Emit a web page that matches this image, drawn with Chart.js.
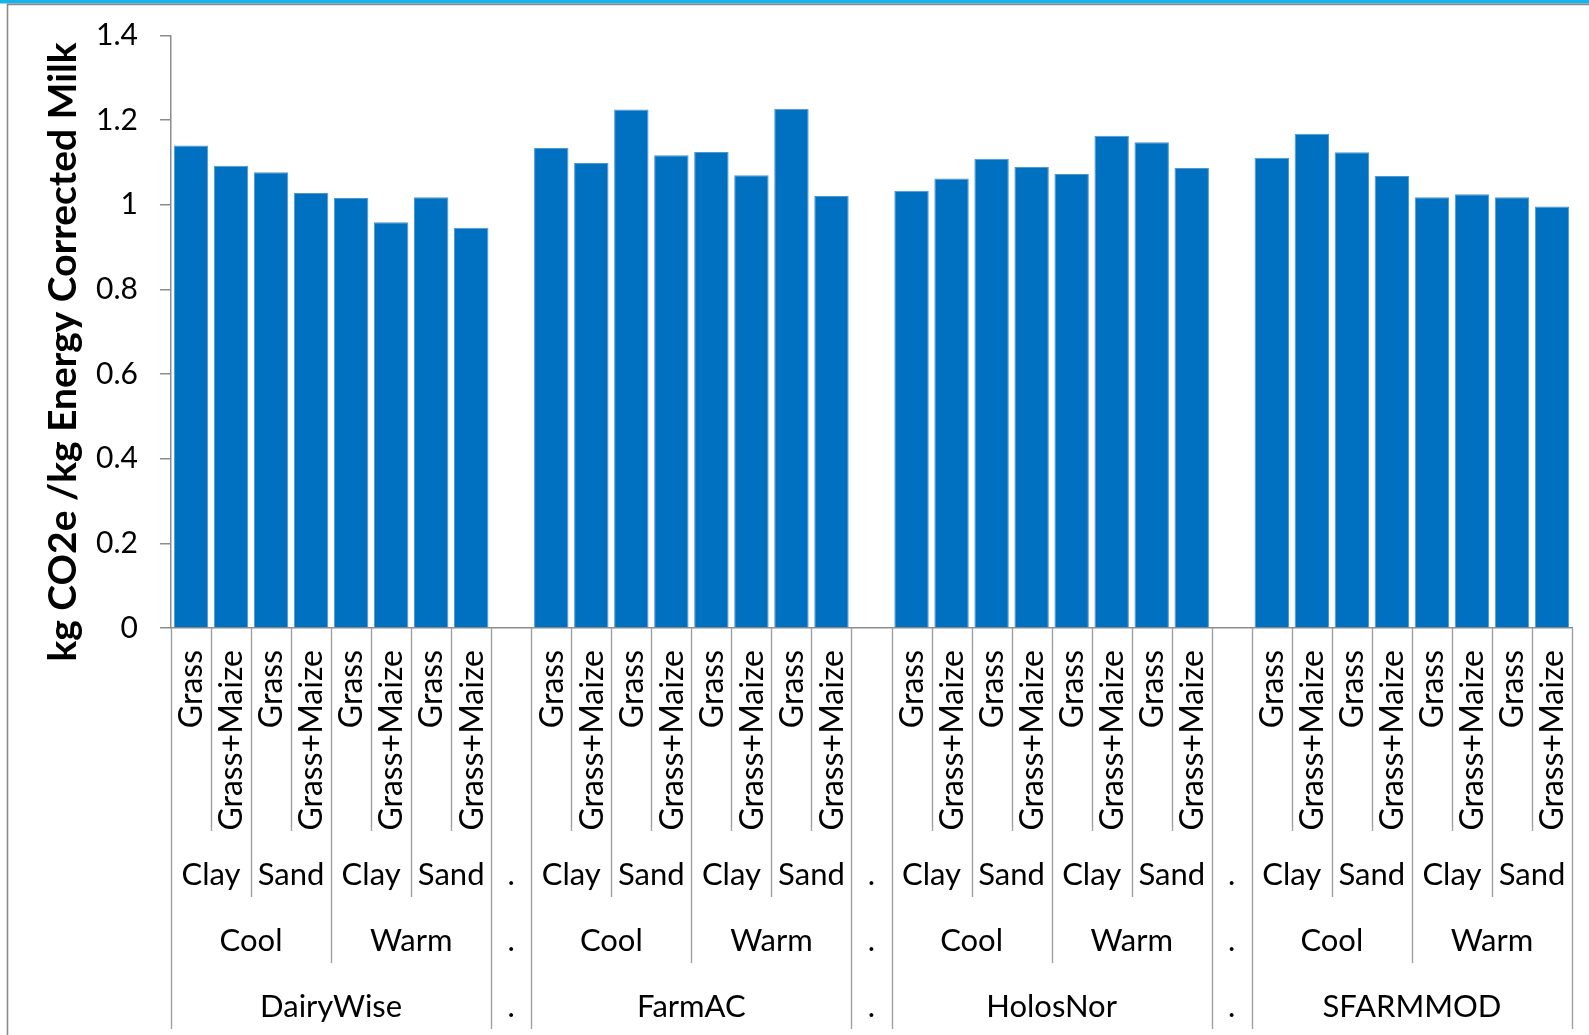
<!DOCTYPE html>
<html>
<head>
<meta charset="utf-8">
<title>kg CO2e per kg Energy Corrected Milk</title>
<script src="https://cdn.jsdelivr.net/npm/chart.js@4.4.1/dist/chart.umd.min.js"></script>
<style>
  html, body { margin: 0; padding: 0; background: #fff; overflow: hidden; }
  #wrap { position: relative; width: 1589px; height: 1035px; }
  canvas { display: block; }
</style>
</head>
<body>
<div id="wrap"><canvas id="c" width="1589" height="1035"></canvas></div>
<script>
// Category hierarchy (outermost last)
const models   = ['DairyWise', 'FarmAC', 'HolosNor', 'SFARMMOD'];
const climates = ['Cool', 'Warm'];
const soils    = ['Clay', 'Sand'];
const feeds    = ['Grass', 'Grass+Maize'];

// kg CO2e / kg ECM per model, ordered Cool-Clay, Cool-Sand, Warm-Clay, Warm-Sand (Grass, Grass+Maize)
const dairyWise = [1.140, 1.092, 1.077, 1.028, 1.016, 0.959, 1.018, 0.946];
const farmAC    = [1.134, 1.099, 1.225, 1.117, 1.125, 1.070, 1.227, 1.021];
const holosNor  = [1.033, 1.062, 1.109, 1.089, 1.073, 1.163, 1.148, 1.087];
const sfarmmod  = [1.111, 1.168, 1.124, 1.068, 1.018, 1.025, 1.018, 0.996];

const yMin = 0, yMax = 1.4, yStep = 0.2;
const yTitle = 'kg CO2e /kg Energy Corrected Milk';
const separatorLabel = '.';

// Build the flat category list, with an empty separator slot between models
const seriesByModel = [dairyWise, farmAC, holosNor, sfarmmod];
const cats = [];
const values = [];
models.forEach((model, mi) => {
  if (mi > 0) { cats.push({ sep: true }); values.push(null); }
  let k = 0;
  climates.forEach(climate => {
    soils.forEach(soil => {
      feeds.forEach(feed => {
        cats.push({ model, climate, soil, feed });
        values.push(seriesByModel[mi][k++]);
      });
    });
  });
});
const labels = cats.map(c => c.sep ? '' : c.feed);

const FONT = 'Lato, "Open Sans", sans-serif';
const AXIS_GREY = '#8c8c8c';
const DIV_GREY = '#a0a0a0';

// Page frame: cyan band along the top, grey border top and left
const framePlugin = {
  id: 'frame',
  beforeDraw(chart) {
    const ctx = chart.ctx;
    ctx.save();
    ctx.fillStyle = '#fff';
    ctx.fillRect(0, 0, chart.width, chart.height);
    ctx.fillStyle = '#17b4ec';
    ctx.fillRect(0, 0, chart.width, 3.5);
    ctx.strokeStyle = '#8a8a8a';
    ctx.lineWidth = 1.6;
    ctx.beginPath();
    ctx.moveTo(7.5, chart.height);
    ctx.lineTo(7.5, 4.4);
    ctx.lineTo(chart.width, 4.4);
    ctx.stroke();
    ctx.restore();
  }
};

// Multi-level category axis and rotated y-axis title
const rowBottoms = [831, 897, 963, 1029];   // feed, soil, climate, model rows
const rowText    = [650, 875, 941, 1007];

const multiAxisPlugin = {
  id: 'multiAxis',
  afterDraw(chart) {
    const ctx = chart.ctx;
    const xs = chart.scales.x;
    const area = chart.chartArea;
    const step = xs.getPixelForValue(1) - xs.getPixelForValue(0);
    const leftEdge = i => xs.getPixelForValue(i) - step / 2;
    const y0 = area.bottom;

    ctx.save();
    // divider lines between categories
    ctx.strokeStyle = DIV_GREY;
    ctx.lineWidth = 1.4;
    for (let b = 0; b <= cats.length; b++) {
      const a = cats[b - 1], c = cats[b];
      let depth;
      if (!a || !c || a.sep || c.sep) depth = 3;
      else if (a.climate !== c.climate) depth = 2;
      else if (a.soil !== c.soil) depth = 1;
      else depth = 0;
      const x = Math.round(leftEdge(b)) + 0.5;
      ctx.beginPath();
      ctx.moveTo(x, y0);
      ctx.lineTo(x, rowBottoms[depth]);
      ctx.stroke();
    }

    ctx.fillStyle = '#000';

    // level 1: rotated feed labels
    ctx.font = '32px ' + FONT;
    cats.forEach((c, i) => {
      if (c.sep) return;
      ctx.save();
      ctx.translate(xs.getPixelForValue(i) + 1, rowText[0]);
      ctx.rotate(-Math.PI / 2);
      ctx.textAlign = 'right';
      ctx.textBaseline = 'middle';
      ctx.fillText(c.feed, 0, 0);
      ctx.restore();
    });

    // levels 2-4: grouped spans
    ctx.font = '31px ' + FONT;
    ctx.textAlign = 'center';
    ctx.textBaseline = 'middle';
    const keyFns = [
      c => c.model + '|' + c.climate + '|' + c.soil,
      c => c.model + '|' + c.climate,
      c => c.model
    ];
    const textFns = [c => c.soil, c => c.climate, c => c.model];
    keyFns.forEach((keyFn, li) => {
      const y = rowText[li + 1];
      let i = 0;
      while (i < cats.length) {
        const c = cats[i];
        if (c.sep) {
          ctx.fillText(separatorLabel, xs.getPixelForValue(i), y);
          i++;
          continue;
        }
        let j = i;
        while (j + 1 < cats.length && !cats[j + 1].sep && keyFn(cats[j + 1]) === keyFn(c)) j++;
        const cx = (leftEdge(i) + leftEdge(j + 1)) / 2;
        ctx.fillText(textFns[li](c), cx, y);
        i = j + 1;
      }
    });

    // y-axis title
    ctx.save();
    ctx.translate(63, 352);
    ctx.rotate(-Math.PI / 2);
    ctx.font = 'bold 39px ' + FONT;
    ctx.textAlign = 'center';
    ctx.textBaseline = 'middle';
    ctx.fillText(yTitle, 0, 0);
    ctx.restore();

    ctx.restore();
  }
};

function draw() {
  new Chart(document.getElementById('c'), {
    type: 'bar',
    data: {
      labels,
      datasets: [{
        data: values,
        backgroundColor: '#0070c0',
        borderColor: '#4d97d3',
        borderWidth: 1,
        categoryPercentage: 1,
        barPercentage: 0.86
      }]
    },
    options: {
      responsive: false,
      animation: false,
      devicePixelRatio: 1,
      layout: { padding: { left: 0, top: 35.5, right: 17, bottom: 407 } },
      plugins: { legend: { display: false }, tooltip: { enabled: false } },
      scales: {
        x: {
          ticks: { display: false },
          grid: { display: false },
          border: { display: true, color: AXIS_GREY, width: 1.5 },
          afterFit(s) { s.height = 0; }
        },
        y: {
          min: yMin,
          max: yMax,
          ticks: {
            stepSize: yStep,
            color: '#000',
            padding: 22,
            font: { family: FONT, size: 30 },
            callback: v => String(Number(v.toFixed(1)))
          },
          grid: { drawOnChartArea: false, drawTicks: true, tickLength: 11, color: AXIS_GREY, lineWidth: 1.5 },
          border: { display: true, color: AXIS_GREY, width: 1.5 },
          afterFit(s) {
            s.width = 171;
            // plot area edges are set by the layout padding alone
            s.paddingTop = 0;
            s.paddingBottom = 0;
          }
        }
      }
    },
    plugins: [framePlugin, multiAxisPlugin]
  });
}

if (document.fonts && document.fonts.load) {
  Promise.all([document.fonts.load('30px Lato'), document.fonts.load('bold 39px Lato')])
    .then(draw, draw);
} else {
  draw();
}
</script>
</body>
</html>
